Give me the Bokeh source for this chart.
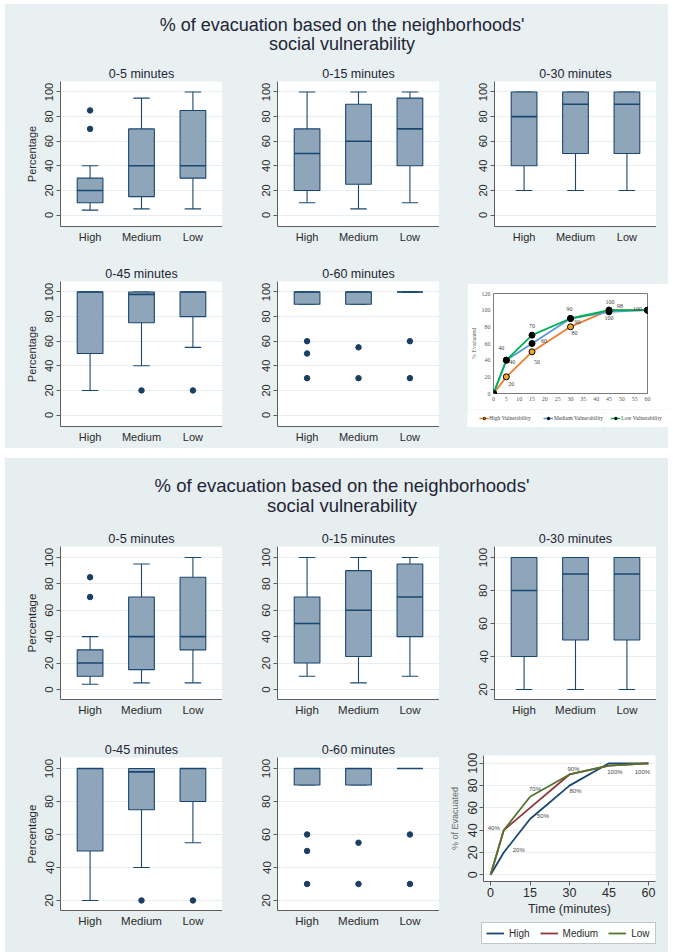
from bokeh.plotting import figure
from bokeh.layouts import row, column
from bokeh.models import (FactorRange, Range1d, FixedTicker, Title, Spacer,
                          ColumnDataSource, Legend, LegendItem, LabelSet)
from bokeh.transform import dodge
from bokeh.core.properties import value
from bokeh.core.validation import silence
from bokeh.core.validation.warnings import MISSING_RENDERERS
from bokeh.embed import file_html
from bokeh.resources import INLINE

silence(MISSING_RENDERERS, True)

# ------------------------------------------------------------------ data
groups = ["High", "Medium", "Low"]
period_names = ["0-5 minutes", "0-15 minutes", "0-30 minutes",
                "0-45 minutes", "0-60 minutes"]
title_line1 = "% of evacuation based on the neighborhoods'"
title_line2 = "social vulnerability"

# box summaries per period, ordered High, Medium, Low
lo_05 = [4, 5, 5]
q1_05 = [10, 15, 30]
med_05 = [20, 40, 40]
q3_05 = [30, 70, 85]
hi_05 = [40, 95, 100]
out_grp_05 = ["High", "High"]
out_val_05 = [70, 85]

lo_15 = [10, 5, 10]
q1_15 = [20, 25, 40]
med_15 = [50, 60, 70]
q3_15 = [70, 90, 95]
hi_15 = [100, 100, 100]
out_grp_15 = []
out_val_15 = []

lo_30 = [20, 20, 20]
q1_30 = [40, 50, 50]
med_30 = [80, 90, 90]
q3_30 = [100, 100, 100]
hi_30 = [100, 100, 100]
out_grp_30 = []
out_val_30 = []

lo_45 = [20, 40, 55]
q1_45 = [50, 75, 80]
med_45 = [100, 98, 100]
q3_45 = [100, 100, 100]
hi_45 = [100, 100, 100]
out_grp_45 = ["Medium", "Low"]
out_val_45 = [20, 20]

lo_60 = [90, 90, 100]
q1_60 = [90, 90, 100]
med_60 = [100, 100, 100]
q3_60 = [100, 100, 100]
hi_60 = [100, 100, 100]
out_grp_60 = ["High", "High", "High", "Medium", "Medium", "Low", "Low"]
out_val_60 = [60, 50, 30, 55, 30, 60, 30]

# cumulative share evacuated over time
minutes = [0, 5, 15, 30, 45, 60]
evac_high = [0, 20, 50, 80, 100, 100]
evac_medium = [0, 40, 60, 90, 98, 100]
evac_low = [0, 40, 70, 90, 100, 100]
# second rendering of the curves
evac_high_b = [0, 20, 50, 80, 100, 100]
evac_medium_b = [0, 40, 60, 90, 98, 100]
evac_low_b = [0, 40, 70, 90, 98, 100]

ticks_0_100 = [0, 20, 40, 60, 80, 100]
ticks_20_100 = [20, 40, 60, 80, 100]
ticks_0_120 = [0, 20, 40, 60, 80, 100, 120]
ticks_min_5 = [0, 5, 10, 15, 20, 25, 30, 35, 40, 45, 50, 55, 60]
ticks_min_15 = [0, 15, 30, 45, 60]

summaries = [
    (lo_05, q1_05, med_05, q3_05, hi_05, out_grp_05, out_val_05),
    (lo_15, q1_15, med_15, q3_15, hi_15, out_grp_15, out_val_15),
    (lo_30, q1_30, med_30, q3_30, hi_30, out_grp_30, out_val_30),
    (lo_45, q1_45, med_45, q3_45, hi_45, out_grp_45, out_val_45),
    (lo_60, q1_60, med_60, q3_60, hi_60, out_grp_60, out_val_60),
]

# ------------------------------------------------------------------ styles
SANS = "Liberation Sans"
SERIF = "Liberation Serif"
BG_TOP = "#e8f0f2"
BG_BOT = "#e7eef0"
NAVY = "#1a476f"
BOX_FILL = "#8ea5ba"
DOT = "#1a3f63"
GRID = "#e6eef0"
AXIS = "#5e5e5e"
TXT = "#2b2b2b"
TITLE_COL = "#1f2535"
EXCEL_SERIES = [("High Vulnerability", "#ed7d31", "#f5a623"),
                ("Medium Vulnerability", "#5b9bd5", "black"),
                ("Low Vulnerability", "#00b050", "black")]
STATA_SERIES = [("High", "#1a476f"), ("Medium", "#90353b"), ("Low", "#55752f")]


def style_axes(p, tick_size):
    for ax in p.axis:
        ax.axis_line_color = AXIS
        ax.major_label_text_font = SANS
        ax.major_label_text_font_size = tick_size
        ax.major_label_text_color = TXT
        ax.axis_label_text_font = SANS
        ax.axis_label_text_font_style = "normal"
        ax.axis_label_text_color = TXT
        ax.minor_tick_line_color = None


def bare_fig(w, h, bg, hide_data=False):
    # a frame-only figure; with hide_data its ranges keep any glyphs out of view
    extra = dict(x_range=Range1d(-20, -19), y_range=Range1d(-20, -19)) if hide_data else {}
    p = figure(width=w, height=h, output_backend="svg", toolbar_location=None,
               min_border_top=0, min_border_bottom=0, min_border_left=0,
               min_border_right=0, x_axis_location=None, y_axis_location=None,
               background_fill_color=bg, border_fill_color=bg,
               outline_line_color=None, **extra)
    p.grid.grid_line_color = None
    return p


def box_panel(k, y_lo, y_hi, ticks, h, top, bottom, bg, ylabel, sizes):
    lo, q1, med, q3, hi, og, ov = summaries[k]
    tick_size, title_size = sizes
    p = figure(width=217, height=h,
               x_range=FactorRange(factors=groups, range_padding=0.05),
               y_range=Range1d(y_lo, y_hi),
               output_backend="svg", toolbar_location=None,
               min_border_left=55, min_border_right=0,
               min_border_top=top, min_border_bottom=bottom,
               background_fill_color="white", border_fill_color=bg,
               outline_line_color=None)
    p.add_layout(Title(text=period_names[k], align="center", text_font=SANS,
                       text_font_size=title_size, text_font_style="normal",
                       text_color=TITLE_COL, standoff=2), "above")
    src = ColumnDataSource(dict(g=groups, lo=lo, q1=q1, med=med, q3=q3, hi=hi))
    cap_l = dodge("g", -0.16, range=p.x_range)
    cap_r = dodge("g", 0.16, range=p.x_range)
    box_l = dodge("g", -0.25, range=p.x_range)
    box_r = dodge("g", 0.25, range=p.x_range)
    kw = dict(source=src, line_color=NAVY, line_width=1.1)
    p.segment(x0="g", y0="lo", x1="g", y1="q1", **kw)
    p.segment(x0="g", y0="q3", x1="g", y1="hi", **kw)
    p.segment(x0=cap_l, y0="lo", x1=cap_r, y1="lo", **kw)
    p.segment(x0=cap_l, y0="hi", x1=cap_r, y1="hi", **kw)
    p.vbar(x="g", bottom="q1", top="q3", width=0.5, source=src,
           fill_color=BOX_FILL, line_color=NAVY, line_width=1.1)
    p.segment(x0=box_l, y0="med", x1=box_r, y1="med", source=src,
              line_color=NAVY, line_width=1.6)
    if og:
        p.scatter(x=og, y=ov, size=5.5, fill_color=DOT, line_color=DOT)
    p.yaxis.ticker = FixedTicker(ticks=ticks)
    p.ygrid.ticker = FixedTicker(ticks=ticks)
    p.ygrid.grid_line_color = GRID
    p.xgrid.grid_line_color = None
    p.yaxis.major_label_orientation = "vertical"
    p.yaxis.major_tick_out = 4
    p.yaxis.major_tick_in = 0
    p.yaxis.major_tick_line_color = AXIS
    p.yaxis.major_label_standoff = 3
    p.xaxis.major_tick_line_color = None
    p.xaxis.major_tick_out = 0
    p.xaxis.major_tick_in = 0
    p.xaxis.major_label_standoff = 4
    style_axes(p, tick_size)
    if ylabel:
        p.yaxis.axis_label = "Percentage"
        p.yaxis.axis_label_text_font_size = tick_size
        p.yaxis.axis_label_standoff = 5
    return p


def title_fig(h, top, bg, size):
    p = bare_fig(663, h, bg)
    p.min_border_top = top
    p.min_border_left = 10
    p.add_layout(Title(text=title_line2, align="center", text_font=SANS,
                       text_font_size=size, text_font_style="normal",
                       text_color=TITLE_COL, standoff=-2), "above")
    p.add_layout(Title(text=title_line1, align="center", text_font=SANS,
                       text_font_size=size, text_font_style="normal",
                       text_color=TITLE_COL, standoff=-5), "above")
    return p


def excel_chart():
    p = figure(width=201, height=126, x_range=Range1d(0, 60), y_range=Range1d(0, 120),
               output_backend="svg", toolbar_location=None,
               min_border_left=22, min_border_right=21, min_border_top=10,
               min_border_bottom=16, background_fill_color="white",
               border_fill_color="white", outline_line_color="#7a7a7a",
               outline_line_width=1)
    p.grid.grid_line_color = None
    for ys, (name, col, mfill) in zip([evac_high, evac_medium, evac_low], EXCEL_SERIES):
        p.line(minutes, ys, line_color=col, line_width=1.8)
        p.scatter(minutes, ys, size=6, fill_color=mfill, line_color="black",
                  line_width=1)
    # value labels: (series, point index) and their pixel offsets
    picks = [(evac_low, 1), (evac_medium, 1), (evac_high, 1),
             (evac_low, 2), (evac_medium, 2), (evac_high, 2),
             (evac_low, 3), (evac_medium, 3), (evac_high, 3),
             (evac_low, 4), (evac_medium, 4), (evac_high, 4), (evac_high, 5)]
    dx = [-5, 6, 5, 0, 12, 5, -1, 7, 4, 1, 11, 0, -10]
    dy = [12, -2, -7, 9, 3, -10, 10, -3, -6, 8, 6, -8, 1]
    src = ColumnDataSource(dict(x=[minutes[i] for s, i in picks],
                                y=[s[i] for s, i in picks],
                                t=[str(s[i]) for s, i in picks], dx=dx, dy=dy))
    p.add_layout(LabelSet(x="x", y="y", text="t", x_offset="dx", y_offset="dy",
                          source=src, text_font=value(SERIF), text_font_size="6px",
                          text_color="#404040", text_align="center",
                          text_baseline="middle"))
    p.xaxis.ticker = FixedTicker(ticks=ticks_min_5)
    p.yaxis.ticker = FixedTicker(ticks=ticks_0_120)
    for ax in p.axis:
        ax.axis_line_color = None
        ax.major_tick_line_color = None
        ax.major_tick_out = 0
        ax.major_tick_in = 0
        ax.minor_tick_line_color = None
        ax.major_label_text_font = SERIF
        ax.major_label_text_font_size = "6px"
        ax.major_label_text_color = "#595959"
        ax.major_label_standoff = 3
    p.yaxis.axis_label = "% Evacuated"
    p.yaxis.axis_label_text_font = SERIF
    p.yaxis.axis_label_text_font_size = "6px"
    p.yaxis.axis_label_text_font_style = "normal"
    p.yaxis.axis_label_text_color = "#595959"
    p.yaxis.axis_label_standoff = 2
    return p


def excel_legend_entry(ys, entry, w):
    # one legend entry per strip, so each key sits in its own slot
    name, col, mfill = entry
    p = bare_fig(w, 18, "white", hide_data=True)
    ln = p.line(minutes, ys, line_color=col, line_width=1.6)
    mk = p.scatter(minutes, ys, size=4.5, fill_color=mfill, line_color="black")
    p.add_layout(Legend(items=[LegendItem(label=name, renderers=[ln, mk])],
                        location="center", label_text_font=SERIF,
                        label_text_font_size="5.5px", label_text_color="#404040",
                        glyph_width=10, glyph_height=6, label_height=6,
                        label_standoff=1, padding=0, margin=0,
                        border_line_color=None, background_fill_alpha=0))
    return p


def excel_legend():
    widths = [75, 62, 64]
    return row(*[excel_legend_entry(ys, entry, w) for ys, entry, w in
                 zip([evac_high, evac_medium, evac_low], EXCEL_SERIES, widths)])


def line_chart():
    p = figure(width=229, height=184, x_range=Range1d(-2.7, 62.7),
               y_range=Range1d(-6, 107), output_backend="svg",
               toolbar_location=None, min_border_left=44, min_border_right=13,
               min_border_top=21, min_border_bottom=34,
               background_fill_color="white", border_fill_color=BG_BOT,
               outline_line_color=None)
    for ys, (name, col) in zip([evac_high_b, evac_medium_b, evac_low_b], STATA_SERIES):
        p.line(minutes, ys, line_color=col, line_width=1.8)
    picks = [(evac_low_b, 1), (evac_high_b, 1), (evac_low_b, 2), (evac_high_b, 2),
             (evac_low_b, 3), (evac_high_b, 3), (evac_high_b, 4), (evac_high_b, 5)]
    dx = [-10, 15, 5, 13, 4, 6, 6, -6]
    dy = [2, 3, 8, 3, 5, -5, -9, -9]
    src = ColumnDataSource(dict(x=[minutes[i] for s, i in picks],
                                y=[s[i] for s, i in picks],
                                t=[f"{s[i]}%" for s, i in picks], dx=dx, dy=dy))
    p.add_layout(LabelSet(x="x", y="y", text="t", x_offset="dx", y_offset="dy",
                          source=src, text_font=value(SANS), text_font_size="6px",
                          text_color="#4a4a4a", text_align="center",
                          text_baseline="middle"))
    p.xaxis.ticker = FixedTicker(ticks=ticks_min_15)
    p.yaxis.ticker = FixedTicker(ticks=ticks_0_100)
    p.ygrid.ticker = FixedTicker(ticks=ticks_0_100)
    p.ygrid.grid_line_color = GRID
    p.xgrid.grid_line_color = None
    style_axes(p, "12.5px")
    for ax in p.axis:
        ax.major_tick_out = 4
        ax.major_tick_in = 0
        ax.major_tick_line_color = AXIS
        ax.major_label_standoff = 2
    p.yaxis.major_label_orientation = "vertical"
    p.xaxis.axis_label = "Time (minutes)"
    p.xaxis.axis_label_text_font_size = "12.5px"
    p.xaxis.axis_label_standoff = 2
    p.yaxis.axis_label = "% of Evacuated"
    p.yaxis.axis_label_text_font_size = "9px"
    p.yaxis.axis_label_text_color = "#6a6a6a"
    p.yaxis.axis_label_standoff = 6
    return p


def line_legend():
    p = bare_fig(191, 34, BG_BOT, hide_data=True)
    items = []
    for ys, (name, col) in zip([evac_high_b, evac_medium_b, evac_low_b], STATA_SERIES):
        ln = p.line(minutes, ys, line_color=col, line_width=1.8)
        items.append(LegendItem(label=name, renderers=[ln]))
    p.add_layout(Legend(items=items, orientation="horizontal", location="top_left",
                        label_text_font=SANS, label_text_font_size="10px",
                        label_text_color=TXT, glyph_width=18, glyph_height=12,
                        label_height=12, label_standoff=5, spacing=10, padding=4,
                        margin=4, border_line_color="#8c8c8c",
                        background_fill_color="white"))
    return p


# ------------------------------------------------------------------ upper graph
top_sizes = ("11px", "12.5px")
top_row1 = row(
    box_panel(0, -9.3, 108.5, ticks_0_100, 200, 23, 32, BG_TOP, True, top_sizes),
    box_panel(1, -9.3, 108.5, ticks_0_100, 200, 23, 32, BG_TOP, False, top_sizes),
    box_panel(2, -9.3, 108.5, ticks_0_100, 200, 23, 32, BG_TOP, False, top_sizes),
    Spacer(width=12, height=200),
)
top_row2 = row(
    box_panel(3, -9.3, 108.5, ticks_0_100, 190, 23, 22, BG_TOP, True, top_sizes),
    box_panel(4, -9.3, 108.5, ticks_0_100, 190, 23, 22, BG_TOP, False, top_sizes),
    Spacer(width=28, height=190),
    column(Spacer(width=201, height=25), excel_chart(), excel_legend(),
           Spacer(width=201, height=21)),
)
top_panel = column(title_fig(54, 48, BG_TOP, "18px"), top_row1, top_row2,
                   styles={"background-color": BG_TOP})

# ------------------------------------------------------------------ lower graph
bot_sizes = ("11.5px", "12.7px")
bot_row1 = row(
    box_panel(0, -7.6, 108.3, ticks_0_100, 211, 23, 35, BG_BOT, True, bot_sizes),
    box_panel(1, -7.6, 108.3, ticks_0_100, 211, 23, 35, BG_BOT, False, bot_sizes),
    box_panel(2, 13.9, 106.7, ticks_20_100, 211, 23, 35, BG_BOT, False, bot_sizes),
    Spacer(width=12, height=211),
)
bot_row2 = row(
    box_panel(3, 13.9, 106.7, ticks_20_100, 218, 23, 42, BG_BOT, True, bot_sizes),
    box_panel(4, 13.9, 106.7, ticks_20_100, 218, 23, 42, BG_BOT, False, bot_sizes),
    column(line_chart(), row(Spacer(width=38, height=34), line_legend())),
)
bot_panel = column(title_fig(65, 56, BG_BOT, "18.5px"), bot_row1, bot_row2,
                   styles={"background-color": BG_BOT})

page = column(
    Spacer(width=673, height=4),
    row(Spacer(width=5, height=444), top_panel),
    Spacer(width=673, height=10),
    row(Spacer(width=5, height=494), bot_panel),
)

open("out.html", "w").write(file_html(page, INLINE))
